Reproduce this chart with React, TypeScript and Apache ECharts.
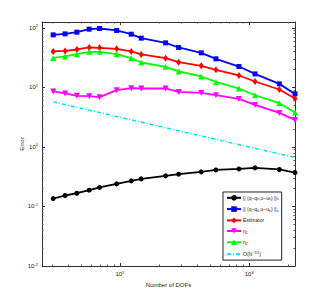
import React, { useEffect, useRef } from "react";
import * as echarts from "echarts";

const dofs = [30500, 37700, 46500, 57900, 69700, 94400, 122400, 146300, 225700, 284700, 425600, 553000, 833000, 1109000, 1710000, 2260000];
const errH = [0.136, 0.153, 0.167, 0.188, 0.209, 0.24, 0.269, 0.291, 0.327, 0.349, 0.382, 0.412, 0.428, 0.446, 0.419, 0.372];
const errS = [76.6, 79.6, 85, 95.5, 98, 90.8, 78.7, 67.4, 56.2, 47, 38.2, 30.3, 22.5, 16.9, 11.5, 7.8];
const estimator = [40.3, 41.2, 43.5, 47, 46.3, 44.6, 40.3, 35.9, 31.1, 26.6, 23.1, 19.8, 15.9, 12.6, 9.25, 6.53];
const eta1 = [8.57, 7.93, 7.23, 7.14, 6.87, 9.0, 9.73, 9.62, 9.62, 8.43, 8.11, 7.43, 6.43, 5.1, 3.74, 2.85];
const eta2 = [31.4, 33.2, 36.3, 39.7, 39.7, 36.3, 31, 26.3, 22.2, 18.6, 15.3, 12.4, 9.6, 7.4, 5.45, 3.8];
const refX = [30500, 2260000];
const refY = [5.73, 0.665];

const names = ["errH", "errS", "Estimator", "eta1", "eta2", "ref"];
const legendText: Record<string, string> = {
  errH: "|| (q−q{sub|h},u−u{sub|h}) ||{sub|h}",
  errS: "|| (q−q{sub|h},u−u{sub|h}) ||{sub|s}",
  Estimator: "Estimator",
  eta1: "η{sub|1}",
  eta2: "η{sub|2}",
  ref: "O(N{sup|−1/2})",
};

const pairs = (xs: number[], ys: number[]) => xs.map((x, i) => [x, ys[i]]);

const powLabel = (v: number) => {
  const e = Math.log10(v);
  const r = Math.round(e);
  if (Math.abs(e - r) < 1e-6) return `10{sup|${r}}`;
  return "";
};

const FONT = "Liberation Sans";

export default function App() {
  const ref = useRef<HTMLDivElement>(null);
  useEffect(() => {
    const chart = echarts.init(ref.current!, undefined, { renderer: "svg" });
    const supStyle = { fontSize: 4, fontFamily: FONT, color: "#222", verticalAlign: "top", padding: [0, 0, 4, 0] };
    const axisCommon = {
      type: "log",
      logBase: 10,
      axisLine: { show: true, lineStyle: { color: "#333", width: 1 } },
      axisTick: { show: true, inside: true, length: 3, lineStyle: { color: "#333" } },
      minorTick: { show: true, splitNumber: 9, length: 1.5, lineStyle: { color: "#555" } },
      splitLine: { show: false },
      minorSplitLine: { show: false },
    };
    chart.setOption({
      animation: false,
      backgroundColor: "#fff",
      grid: { left: 42, right: 32, top: 22, bottom: 34, outerBoundsMode: "none", show: false },
      xAxis: [
        {
          ...axisCommon,
          min: 25000,
          max: 2260000,
          position: "bottom",
          name: "Number of DOFs",
          nameLocation: "middle",
          nameGap: 16,
          nameMoveOverlap: false,
          nameTextStyle: { fontSize: 6, fontFamily: FONT, color: "#222" },
          axisLabel: {
            formatter: powLabel,
            fontSize: 6,
            fontFamily: FONT,
            color: "#222",
            margin: 4,
            rich: { sup: supStyle },
          },
        },
        {
          ...axisCommon,
          min: 25000,
          max: 2260000,
          position: "top",
          axisLabel: { show: false },
        },
      ],
      yAxis: [
        {
          ...axisCommon,
          min: 0.01,
          max: 126,
          position: "left",
          name: "Error",
          nameLocation: "middle",
          nameGap: 17,
          nameMoveOverlap: false,
          nameTextStyle: { fontSize: 6, fontFamily: FONT, color: "#222" },
          axisLabel: {
            formatter: powLabel,
            fontSize: 6,
            fontFamily: FONT,
            color: "#222",
            margin: 4,
            rich: { sup: supStyle },
          },
        },
        {
          ...axisCommon,
          min: 0.01,
          max: 126,
          position: "right",
          axisLabel: { show: false },
        },
      ],
      legend: {
        orient: "vertical",
        left: 223,
        top: 192,
        padding: [3, 3, 3, 3],
        itemGap: 5,
        itemWidth: 14,
        itemHeight: 7,
        backgroundColor: "#fff",
        borderColor: "#222",
        borderWidth: 1,
        borderRadius: 0,
        selectedMode: false,
        data: names.map((n) => (n === "ref" ? { name: n, itemStyle: { opacity: 0 } } : { name: n })),
        formatter: (n: string) => legendText[n] || n,
        textStyle: {
          fontSize: 5,
          fontFamily: FONT,
          color: "#222",
          padding: [0, 0, 0, -3],
          rich: {
            sub: { fontSize: 3.6, fontFamily: FONT, color: "#222", verticalAlign: "bottom", padding: [3, 0, 0, 0] },
            sup: { fontSize: 3.6, fontFamily: FONT, color: "#222", verticalAlign: "top", padding: [0, 0, 3, 0] },
          },
        },
      },
      series: [
        {
          name: "errH",
          type: "line",
          data: pairs(dofs, errH),
          symbol: "circle",
          symbolSize: 5,
          itemStyle: { color: "#000" },
          lineStyle: { color: "#000", width: 1.8 },
        },
        {
          name: "errS",
          type: "line",
          data: pairs(dofs, errS),
          symbol: "rect",
          symbolSize: 5,
          itemStyle: { color: "#0000ff" },
          lineStyle: { color: "#0000ff", width: 1.8 },
        },
        {
          name: "Estimator",
          type: "line",
          data: pairs(dofs, estimator),
          symbol: "diamond",
          symbolSize: [5, 7],
          itemStyle: { color: "#ff0000" },
          lineStyle: { color: "#ff0000", width: 1.8 },
        },
        {
          name: "eta1",
          type: "line",
          data: pairs(dofs, eta1),
          symbol: "triangle",
          symbolRotate: 180,
          symbolSize: 6,
          itemStyle: { color: "#ff00ff" },
          lineStyle: { color: "#ff00ff", width: 1.8 },
        },
        {
          name: "eta2",
          type: "line",
          data: pairs(dofs, eta2),
          symbol: "triangle",
          symbolSize: 6,
          itemStyle: { color: "#00ff00" },
          lineStyle: { color: "#00ff00", width: 1.8 },
        },
        {
          name: "ref",
          type: "line",
          data: pairs(refX, refY),
          symbol: "none",
          itemStyle: { color: "#00e5f0" },
          lineStyle: { color: "#00e5f0", width: 1.5, type: [4, 2, 1, 2] },
        },
      ],
    });
    return () => chart.dispose();
  }, []);
  return (
    <div
      ref={ref}
      style={{ position: "fixed", left: 0, top: 0, width: 327, height: 300, background: "#fff" }}
    />
  );
}
